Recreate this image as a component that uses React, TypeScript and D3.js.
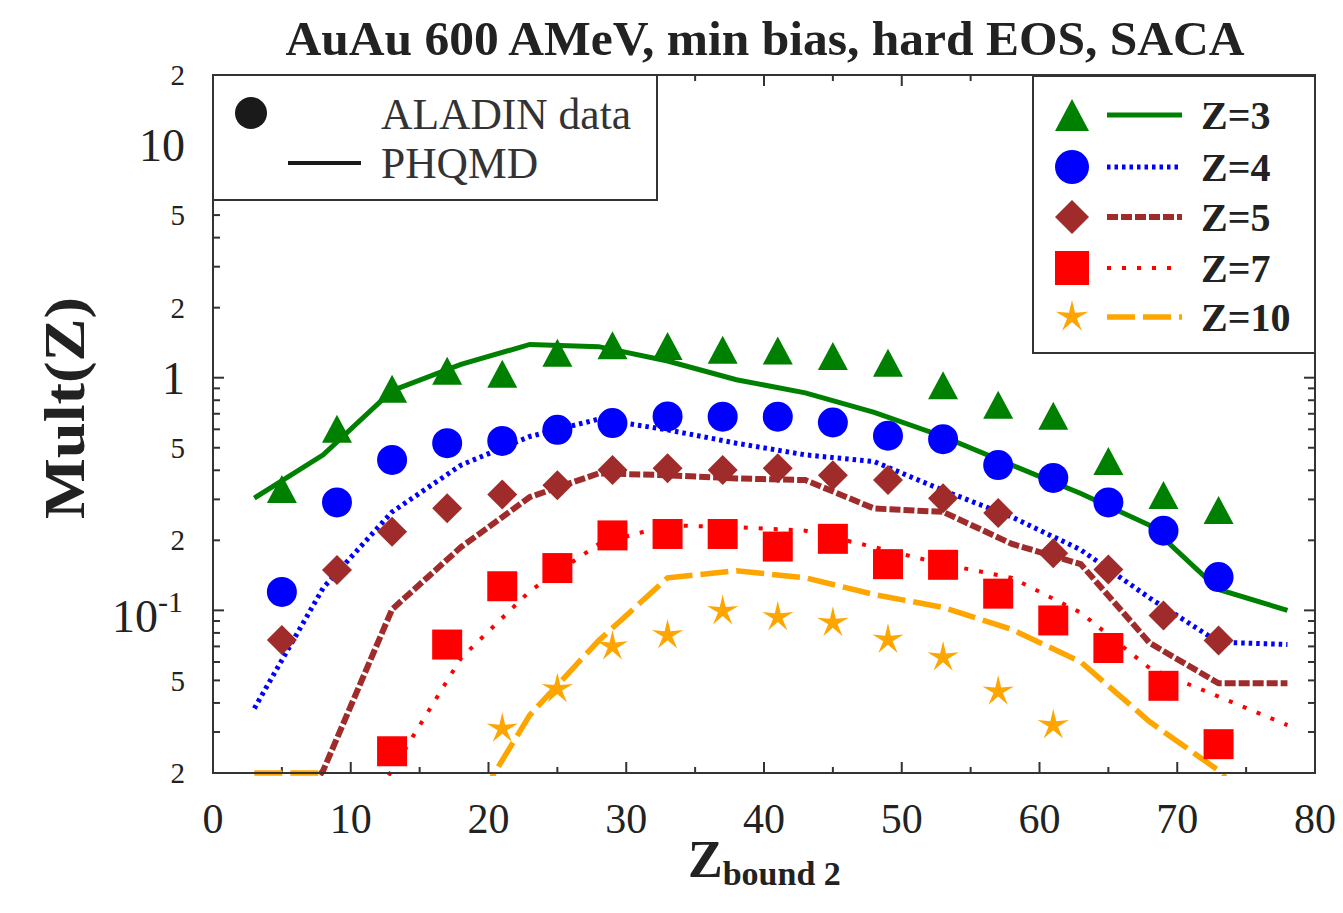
import * as d3 from 'd3'

// ALADIN data points (Z_bound2 bins)
const zData = [5, 9, 13, 17, 21, 25, 29, 33, 37, 41, 45, 49, 53, 57, 61, 65, 69, 73]
const aladinZ3 = [0.332, 0.604, 0.896, 1.07, 1.04, 1.28, 1.38, 1.37, 1.32, 1.31, 1.24, 1.16, 0.929, 0.766, 0.687, 0.438, 0.313, 0.27]
const aladinZ4 = [0.12, 0.291, 0.443, 0.523, 0.535, 0.597, 0.638, 0.682, 0.68, 0.68, 0.642, 0.563, 0.544, 0.421, 0.371, 0.291, 0.22, 0.139]
const aladinZ5 = [0.0746, 0.149, 0.218, 0.275, 0.315, 0.345, 0.401, 0.408, 0.401, 0.408, 0.381, 0.363, 0.303, 0.262, 0.176, 0.15, 0.0951, 0.0742]
const aladinZ7 = [null, null, 0.0248, 0.0713, 0.127, 0.152, 0.21, 0.213, 0.213, 0.188, 0.203, 0.158, 0.157, 0.118, 0.0905, 0.0689, 0.0474, 0.0266]
const aladinZ10 = [null, null, null, null, 0.031, 0.0459, 0.07, 0.0782, 0.0993, 0.0935, 0.0884, 0.0748, 0.0628, 0.0448, 0.0321, null, null, null]

// PHQMD curves
const zModel = [3, 8, 13, 18, 23, 28, 33, 38, 43, 48, 53, 58, 63, 68, 73, 78]
const phqmdZ3 = [0.304, 0.466, 0.88, 1.14, 1.39, 1.36, 1.18, 0.98, 0.861, 0.71, 0.559, 0.421, 0.318, 0.232, 0.123, 0.1]
const phqmdZ4 = [0.0379, 0.125, 0.265, 0.421, 0.559, 0.664, 0.597, 0.523, 0.466, 0.436, 0.328, 0.252, 0.182, 0.113, 0.073, 0.0713]
const phqmdZ5 = [0.008, 0.0205, 0.101, 0.187, 0.307, 0.388, 0.381, 0.369, 0.363, 0.274, 0.265, 0.193, 0.158, 0.0724, 0.0486, 0.0486]
const phqmdZ7 = [0.005, 0.008, 0.0205, 0.0623, 0.121, 0.193, 0.232, 0.228, 0.22, 0.187, 0.158, 0.138, 0.0977, 0.0564, 0.0426, 0.0321]
const phqmdZ10 = [0.02, 0.02, null, 0.0116, 0.0355, 0.0742, 0.138, 0.148, 0.138, 0.117, 0.103, 0.0828, 0.06, 0.0332, 0.0205, 0.01]

const seriesLabels = ['Z=3', 'Z=4', 'Z=5', 'Z=7', 'Z=10']
const xTickValues = [0, 10, 20, 30, 40, 50, 60, 70, 80]
const yTickValues = [0.02, 0.05, 0.1, 0.2, 0.5, 1, 2, 5, 10, 20]
const yTickLabels = ['2', '5', '10^-1', '2', '5', '1', '2', '5', '10', '2']

const series = [
  { label: seriesLabels[0], pts: aladinZ3, model: phqmdZ3, color: '#008000', shape: 'triangle', dash: null, lw: 5 },
  { label: seriesLabels[1], pts: aladinZ4, model: phqmdZ4, color: '#0000ff', shape: 'circle', dash: '3.5 4', lw: 5 },
  { label: seriesLabels[2], pts: aladinZ5, model: phqmdZ5, color: '#a02b2b', shape: 'diamond', dash: '11 3', lw: 6 },
  { label: seriesLabels[3], pts: aladinZ7, model: phqmdZ7, color: '#ff0000', shape: 'square', dash: '4 11', lw: 4 },
  { label: seriesLabels[4], pts: aladinZ10, model: phqmdZ10, color: '#ffa500', shape: 'star', dash: '28 8', lw: 5.5 },
]

const L = 213, R = 1315, T = 75, B = 773
const font = '"Liberation Serif", "Times New Roman", serif'
const ink = '#222'

const markerPath = (shape: string, cx: number, cy: number, s = 15) => {
  if (shape === 'triangle') return `M${cx},${cy - s + 1}L${cx + s},${cy + s - 1}L${cx - s},${cy + s - 1}Z`
  if (shape === 'diamond') return `M${cx},${cy - s}L${cx + s},${cy}L${cx},${cy + s}L${cx - s},${cy}Z`
  if (shape === 'square') return `M${cx - s},${cy - s}h${2 * s}v${2 * s}h${-2 * s}Z`
  if (shape === 'star') {
    const pts: string[] = []
    for (let i = 0; i < 10; i++) {
      const r = i % 2 === 0 ? s : s * 0.3
      const a = -Math.PI / 2 + (i * Math.PI) / 5
      pts.push(`${cx + r * Math.cos(a)},${cy + r * Math.sin(a)}`)
    }
    return `M${pts.join('L')}Z`
  }
  return `M${cx - s},${cy}a${s},${s} 0 1,0 ${2 * s},0a${s},${s} 0 1,0 ${-2 * s},0Z`
}

const App = () => {
  const x = d3.scaleLinear().domain([0, 80]).range([L, R])
  const y = d3.scaleLog().domain([0.02, 20]).range([B, T])

  const line = d3.line<[number, number | null]>()
    .defined(d => d[1] != null)
    .x(d => x(d[0]))
    .y(d => y(d[1] as number))

  const xMinor = d3.range(5, 80, 10)
  const yAll = y.ticks()
  const isMajorY = (v: number) => Math.abs(Math.log10(v) - Math.round(Math.log10(v))) < 1e-6

  const legendRows = [115, 167, 217, 268, 317]

  return (
    <svg width={1343} height={913} style={{ position: 'absolute', left: 0, top: 0, background: '#fff' }}>
      <defs>
        <clipPath id="plotClip">
          <rect x={L} y={T} width={R - L} height={B - T + 3} />
        </clipPath>
      </defs>

      <text x={765} y={55} textAnchor="middle" fontFamily={font} fontWeight="bold" fontSize={49.5} fill={ink}>
        AuAu 600 AMeV, min bias, hard EOS, SACA
      </text>

      {/* ticks */}
      <g stroke="#333" strokeWidth={2}>
        {xTickValues.map(v => (
          <g key={'xt' + v}>
            <line x1={x(v)} x2={x(v)} y1={B} y2={B - 11} />
            <line x1={x(v)} x2={x(v)} y1={T} y2={T + 11} />
          </g>
        ))}
        {xMinor.map(v => (
          <g key={'xm' + v}>
            <line x1={x(v)} x2={x(v)} y1={B} y2={B - 6} />
            <line x1={x(v)} x2={x(v)} y1={T} y2={T + 6} />
          </g>
        ))}
        {yAll.map(v => {
          const len = isMajorY(v) ? 11 : 7
          return (
            <g key={'yt' + v}>
              <line x1={L} x2={L + len} y1={y(v)} y2={y(v)} />
              <line x1={R} x2={R - len} y1={y(v)} y2={y(v)} />
            </g>
          )
        })}
      </g>

      {/* PHQMD lines */}
      <g clipPath="url(#plotClip)" fill="none">
        {series.map(s => (
          <path key={'l' + s.label}
            d={line(zModel.map((z, i) => [z, s.model[i]] as [number, number | null])) || ''}
            stroke={s.color} strokeWidth={s.lw} strokeDasharray={s.dash || undefined} />
        ))}
      </g>

      {/* ALADIN points */}
      <g clipPath="url(#plotClip)">
        {series.map(s => zData.map((z, i) => s.pts[i] == null ? null : (
          <path key={s.label + z} d={markerPath(s.shape, x(z), y(s.pts[i] as number), s.shape === 'star' ? 16.5 : 15)} fill={s.color} />
        )))}
      </g>

      {/* x tick labels */}
      {xTickValues.map(v => (
        <text key={'xl' + v} x={x(v)} y={833} textAnchor="middle" fontFamily={font} fontSize={42} fill={ink}>{v}</text>
      ))}

      {/* y tick labels */}
      {yTickValues.map((v, i) => {
        const lab = yTickLabels[i]
        const major = isMajorY(v)
        if (lab === '10^-1') {
          return (
            <text key={'yl' + i} x={112} y={y(v) + 22} fontFamily={font} fontSize={46} fill={ink}>
              10<tspan dy={-20} fontSize={30}>-1</tspan>
            </text>
          )
        }
        return (
          <text key={'yl' + i} x={185} y={y(v)} dy="0.35em" textAnchor="end" fontFamily={font}
            fontSize={major ? 46 : 29} fill={ink}>{lab}</text>
        )
      })}

      {/* axis titles */}
      <text transform="translate(84,408) rotate(-90)" textAnchor="middle" fontFamily={font} fontWeight="bold" fontSize={56}
        textLength={222} lengthAdjust="spacingAndGlyphs" fill={ink}>
        Mult(Z)
      </text>
      <text x={688} y={877} fontFamily={font} fontWeight="bold" fontSize={52} fill={ink}>
        Z<tspan dy={8} fontSize={34}>bound 2</tspan>
      </text>

      {/* left legend */}
      <rect x={L} y={T} width={444} height={125} fill="#fff" stroke="#333" strokeWidth={2} />
      <circle cx={251} cy={113} r={16} fill="#1a1a1a" />
      <line x1={288} x2={361} y1={163} y2={163} stroke="#1a1a1a" strokeWidth={4} />
      <text x={381} y={129} fontFamily={font} fontSize={43.5} fill="#333">ALADIN data</text>
      <text x={381} y={178} fontFamily={font} fontSize={43.5} fill="#333">PHQMD</text>

      {/* right legend */}
      <rect x={1033} y={T + 1} width={R - 1033} height={277} fill="#fff" stroke="#333" strokeWidth={2} />
      {series.map((s, i) => (
        <g key={'lg' + s.label}>
          <path d={markerPath(s.shape, 1072, legendRows[i], 17)} fill={s.color} />
          <line x1={1107} x2={1182} y1={legendRows[i]} y2={legendRows[i]} stroke={s.color} strokeWidth={s.lw}
            strokeDasharray={s.dash || undefined} />
          <text x={1201} y={legendRows[i]} dy="0.35em" fontFamily={font} fontWeight="bold" fontSize={40} fill={ink}>{s.label}</text>
        </g>
      ))}

      {/* frame */}
      <rect x={L} y={T} width={R - L} height={B - T} fill="none" stroke="#333" strokeWidth={2} />
    </svg>
  )
}

export default App
